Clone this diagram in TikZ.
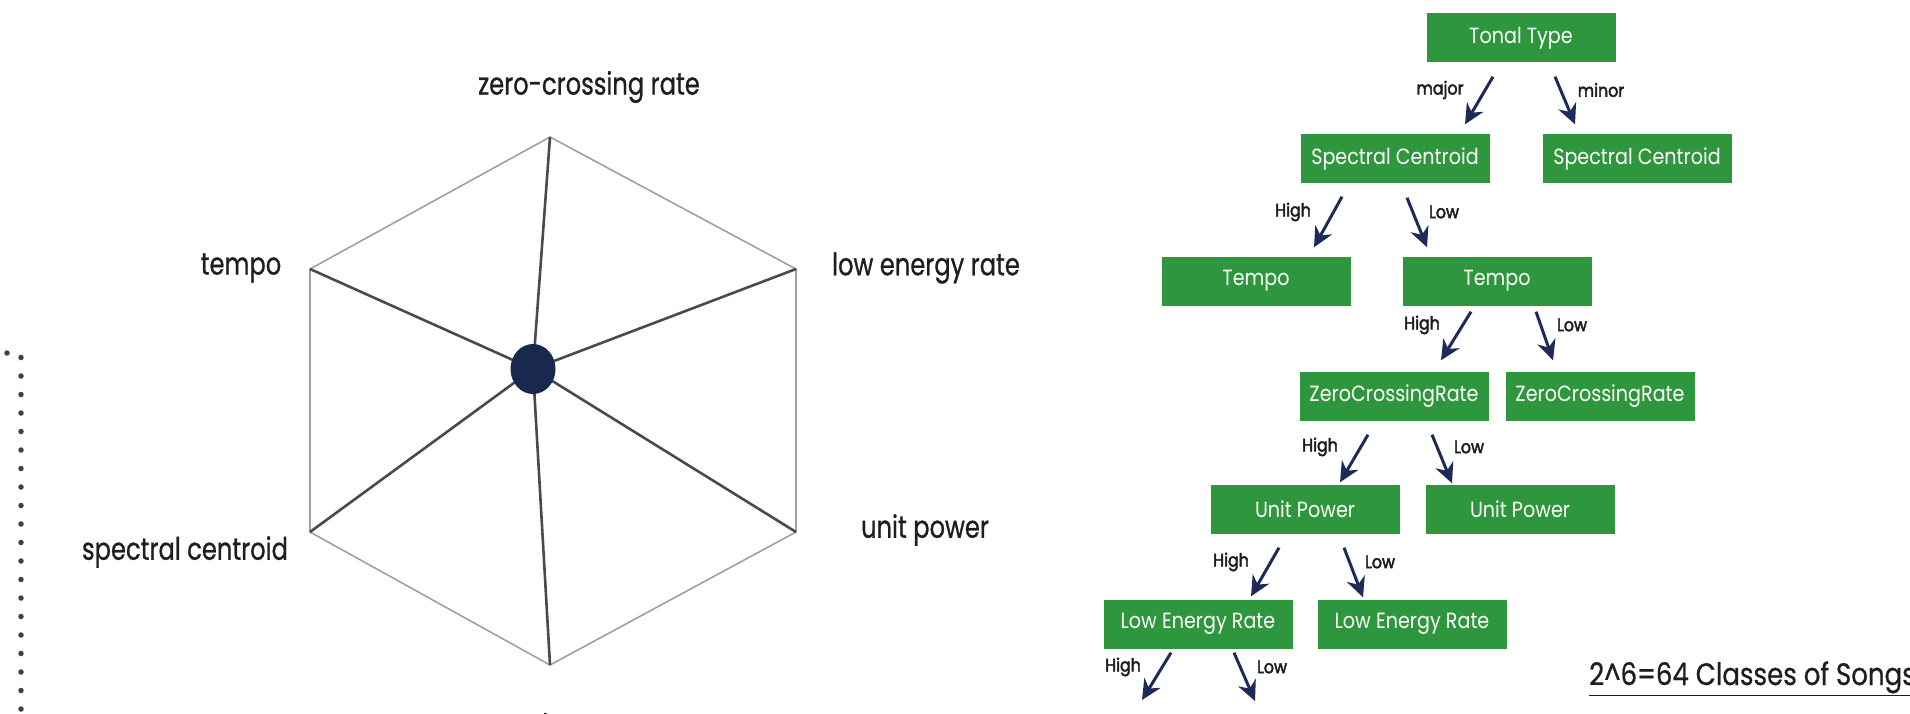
\documentclass[tikz,border=0pt]{standalone}
\usepackage{fontspec}
\setmainfont{Poppins}
\usetikzlibrary{arrows.meta,calc,shapes.geometric}
\newfontfamily\axisfont[FakeStretch=0.78,FakeBold=0.8]{Poppins}
\newfontfamily\boxfont[FakeStretch=0.87]{Poppins}
\newfontfamily\edgefont[FakeStretch=0.88,FakeBold=2.5]{Poppins}
\newfontfamily\notefont[FakeStretch=0.84,FakeBold=0.6]{Poppins}
\definecolor{boxgreen}{RGB}{46,150,60}
\definecolor{arrownavy}{RGB}{30,42,90}
\definecolor{hubnavy}{RGB}{24,40,78}
\definecolor{rimgray}{RGB}{160,160,160}
\definecolor{spokegray}{RGB}{80,72,72}
\definecolor{inkblack}{RGB}{30,30,30}
\tikzset{
  rim/.style={draw=rimgray, line width=1.6pt},
  spoke/.style={draw=spokegray, line width=2.6pt},
  axislabel/.style={font=\axisfont\fontsize{31}{33}\selectfont, text=inkblack, inner sep=0pt},
  featbox/.style={fill=boxgreen, text=white, minimum width=189pt, minimum height=49pt,
    inner sep=0pt, font=\boxfont\fontsize{22}{24}\selectfont},
  branch/.style={draw=arrownavy, line width=3pt, -{Stealth[length=20pt,width=19pt]}},
  blabel/.style={font=\edgefont\fontsize{18}{19}\selectfont, text=inkblack, inner sep=0pt},
  dotline/.style={draw=black!75, line width=5.5pt, line cap=round, dash pattern=on 0pt off 18.5pt},
}
\begin{document}
\begin{tikzpicture}[x=1pt,y=-1pt]
\useasboundingbox (0,0) rectangle (1910,714);

% dotted frame edge on the left
\coordinate (d0) at (-30,353);
\coordinate (d1) at (21,353);
\coordinate (d2) at (21,760);
\draw[dotline] (d0) -- (d1) -- (d2);

% ---------- feature hexagon ----------
\coordinate (v1) at (550,137);
\coordinate (v2) at (796,269);
\coordinate (v3) at (796,532);
\coordinate (v4) at (550,665);
\coordinate (v5) at (310,532);
\coordinate (v6) at (310,269);
\coordinate (hc) at (533,369);
\draw[rim] (v1) -- (v2) -- (v3) -- (v4) -- (v5) -- (v6) -- cycle;
\foreach \v in {v1,v2,v3,v4,v5,v6} \draw[spoke] (hc) -- (\v);
\node[ellipse, fill=hubnavy, minimum width=45pt, minimum height=50pt, inner sep=0pt] (hub) at (hc) {};

\node[axislabel] (lzc) at (589,87) {zero-crossing rate};
\node[axislabel] (lte) at (241,268) {tempo};
\node[axislabel] (lle) at (926,268) {low energy rate};
\node[axislabel] (lup) at (925,530) {unit power};
\node[axislabel] (lsc) at (185,552) {spectral centroid};
\node[axislabel, anchor=base west] (ltt) at (486,736) {tonal type};

% ---------- decision tree ----------
\node[featbox] (tt)  at (1521,38)  {Tonal Type};
\node[featbox] (scL) at (1395,159) {Spectral Centroid};
\node[featbox] (scR) at (1637,159) {Spectral Centroid};
\node[featbox] (teL) at (1256,281) {Tempo};
\node[featbox] (teR) at (1497,281) {Tempo};
\node[featbox] (zcL) at (1394,396) {ZeroCrossingRate};
\node[featbox] (zcR) at (1600,396) {ZeroCrossingRate};
\node[featbox] (upL) at (1305,509) {Unit Power};
\node[featbox] (upR) at (1520,509) {Unit Power};
\node[featbox] (leL) at (1198,624) {Low Energy Rate};
\node[featbox] (leR) at (1412,624) {Low Energy Rate};

\draw[branch] ($(tt.south)+(-28,14)$) -- ($(scL.north)+(70,-10)$);
\draw[branch] ($(tt.south)+(34,14)$) -- ($(scR.north)+(-62,-10)$);
\node[blabel] (bmaj) at (1440,90) {major};
\node[blabel] (bmin) at (1601,90) {minor};

\draw[branch] ($(scL.south)+(-53,13)$) -- ($(teL.north)+(58,-9)$);
\draw[branch] ($(scL.south)+(12,14)$) -- ($(teR.north)+(-70,-9)$);
\node[blabel] (b1h) at (1293,212) {High};
\node[blabel] (b1l) at (1444,212) {Low};

\draw[branch] ($(teR.south)+(-26,6)$) -- ($(zcL.north)+(47,-11)$);
\draw[branch] ($(teR.south)+(39,6)$) -- ($(zcR.north)+(-47,-11)$);
\node[blabel] (b2h) at (1422,325) {High};
\node[blabel] (b2l) at (1572,325) {Low};

\draw[branch] ($(zcL.south)+(-26,14)$) -- ($(upL.north)+(35,-2)$);
\draw[branch] ($(zcL.south)+(38,14)$) -- ($(upR.north)+(-68,-1)$);
\node[blabel] (b3h) at (1320,447) {High};
\node[blabel] (b3l) at (1469,447) {Low};

\draw[branch] ($(upL.south)+(-26,14)$) -- ($(leL.north)+(53,-3)$);
\draw[branch] ($(upL.south)+(39,14)$) -- ($(leR.north)+(-49,-2)$);
\node[blabel] (b4h) at (1231,562) {High};
\node[blabel] (b4l) at (1380,562) {Low};

\coordinate (endH) at (1142,700);
\coordinate (endL) at (1255,701);
\draw[branch] ($(leL.south)+(-27,4)$) -- (endH);
\draw[branch] ($(leL.south)+(36,4)$) -- (endL);
\node[blabel] (b5h) at (1123,667) {High};
\node[blabel] (b5l) at (1272,667) {Low};

\node[font=\notefont\fontsize{31}{33}\selectfont, text=inkblack, inner sep=0pt, anchor=base west]
  (classes) at (1589,685) {\underline{2\textasciicircum 6=64 Classes of Songs}};
\end{tikzpicture}
\end{document}
